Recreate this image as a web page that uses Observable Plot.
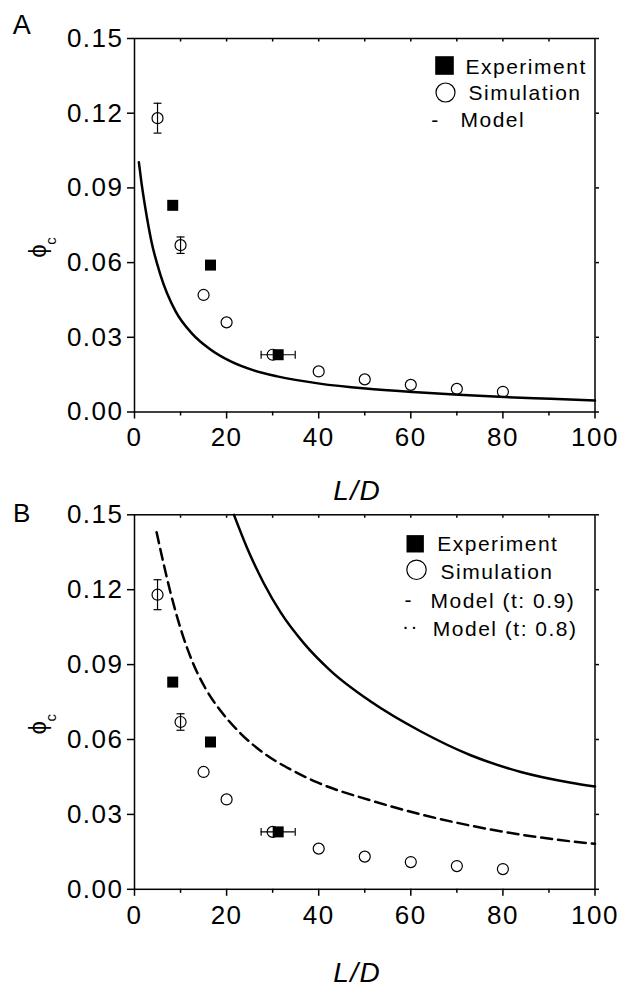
<!DOCTYPE html>
<html>
<head>
<meta charset="utf-8">
<script src="https://cdn.jsdelivr.net/npm/d3@7"></script>
<script src="https://cdn.jsdelivr.net/npm/@observablehq/plot@0.6"></script>
<style>
html, body { margin: 0; padding: 0; background: #fff; }
#wrap { position: relative; width: 624px; height: 987px; overflow: hidden; background: #fff; }
#wrap svg { position: absolute; left: 0; }
</style>
</head>
<body>
<div id="wrap"></div>
<script>
// ---------- data ----------
const simX   = [5, 10, 15, 20, 30, 40, 50, 60, 70, 80];
const simY   = [0.118, 0.067, 0.047, 0.036, 0.023, 0.0163, 0.0131, 0.0109, 0.0093, 0.0081];
const simErr = [0.006, 0.0033, 0, 0, 0, 0, 0, 0, 0, 0];

const expX    = [8.3, 16.5, 31.2];
const expY    = [0.083, 0.059, 0.023];
const expXErr = [0, 0.9, 3.7];

// Panel A model curve
const modelAX = [0.95, 1.52, 2.39, 3.62, 5.65, 8.9, 12.5, 16.2, 20.9, 25.9, 31.0, 40.2, 50.2, 60.4, 70.4, 80.3, 90.4, 100];
const modelAY = [0.1003, 0.0920, 0.0815, 0.0690, 0.0550, 0.0405, 0.0315, 0.0255, 0.0203, 0.0167, 0.0143, 0.0114, 0.0094, 0.0080, 0.0069, 0.0060, 0.0053, 0.0046];

// Panel B model curves
const modelB09X = [21.6, 24.5, 28.1, 31.7, 36.8, 42.6, 51.3, 62.2, 73.0, 83.9, 94.8, 100];
const modelB09Y = [0.150, 0.1365, 0.1225, 0.1110, 0.0985, 0.0875, 0.0752, 0.0632, 0.0537, 0.0470, 0.0427, 0.0412];
const modelB08X = [4.8, 6.0, 7.8, 10.0, 12.5, 15.4, 18.7, 23.0, 28.1, 33.9, 39.7, 51.3, 62.2, 73.0, 83.9, 94.8, 100];
const modelB08Y = [0.143, 0.133, 0.119, 0.1045, 0.0915, 0.0805, 0.0715, 0.0625, 0.0545, 0.0480, 0.0428, 0.0356, 0.0300, 0.0255, 0.0219, 0.0192, 0.0182];

// axes
const xMajor = [0, 20, 40, 60, 80, 100];
const xMinor = [10, 30, 50, 70, 90];
const xTop   = [10, 20, 30, 40, 50, 60, 70, 80, 90];
const yTicks = [0, 0.03, 0.06, 0.09, 0.12, 0.15];
const yTickLabels = ["0.00", "0.03", "0.06", "0.09", "0.12", "0.15"];

const legendA = ["Experiment", "Simulation", "Model"];
const legendB = ["Experiment", "Simulation", "Model (t: 0.9)", "Model (t: 0.8)"];

// ---------- tables ----------
const sim = simX.map((x, i) => ({x, y: simY[i], e: simErr[i]}));
const simE = sim.filter(d => d.e > 0);
const simCaps = simE.flatMap(d => [{x: d.x, y: d.y - d.e}, {x: d.x, y: d.y + d.e}]);
const exp = expX.map((x, i) => ({x, y: expY[i], e: expXErr[i]}));
const expE = exp.filter(d => d.e > 0);
const expCaps = expE.flatMap(d => [{x: d.x - d.e, y: d.y}, {x: d.x + d.e, y: d.y}]);
const toPts = (xs, ys) => xs.map((x, i) => ({x, y: ys[i]}));
const modelA = toPts(modelAX, modelAY);
const modelB09 = toPts(modelB09X, modelB09Y);
const modelB08 = toPts(modelB08X, modelB08Y);

// custom cap symbols
const hline = {draw(ctx, size) { const w = Math.sqrt(size) / 2; ctx.moveTo(-w, 0); ctx.lineTo(w, 0); }};
const vline = {draw(ctx, size) { const w = Math.sqrt(size) / 2; ctx.moveTo(0, -w); ctx.lineTo(0, w); }};

const FONT = "font-family: 'Liberation Sans', Arial, Helvetica, sans-serif; background: transparent; overflow: visible; letter-spacing: 1.5px;";
const yFmt = d => yTickLabels[yTicks.indexOf(d)] ?? d3.format(".2f")(d);

function axes() {
  return [
    Plot.axisY({ticks: yTicks, tickSize: 7, tickPadding: 4, tickFormat: yFmt, fontSize: 26, strokeWidth: 1.5, label: null}),
    Plot.axisY({anchor: "right", ticks: yTicks, tickSize: 3.5, tickFormat: () => "", strokeWidth: 1.5, label: null}),
    Plot.axisX({ticks: xMajor, tickSize: 7, tickPadding: 9, fontSize: 26, strokeWidth: 1.5, label: null}),
    Plot.axisX({ticks: xMinor, tickSize: 4, tickFormat: () => "", strokeWidth: 1.5, label: null}),
    Plot.axisX({anchor: "top", ticks: xTop, tickSize: -2.5, tickFormat: () => "", strokeWidth: 1.5, label: null}),
    Plot.frame({stroke: "black", strokeWidth: 1.5})
  ];
}

function points() {
  return [
    Plot.dot(sim, {x: "x", y: "y", r: 5.5, stroke: "black", strokeWidth: 1.2, fill: "none"}),
    Plot.ruleX(simE, {x: "x", y1: d => d.y - d.e, y2: d => d.y + d.e, stroke: "black", strokeWidth: 1.2}),
    Plot.dot(simCaps, {x: "x", y: "y", symbol: hline, r: 4.5, stroke: "black", strokeWidth: 1.2}),
    Plot.ruleY(expE, {y: "y", x1: d => d.x - d.e, x2: d => d.x + d.e, stroke: "black", strokeWidth: 1.2}),
    Plot.dot(expCaps, {x: "x", y: "y", symbol: vline, r: 4.5, stroke: "black", strokeWidth: 1.2}),
    Plot.dot(exp, {x: "x", y: "y", symbol: "square", r: 6.2, fill: "black"})
  ];
}

function yLabel() {
  return [
    Plot.text(["ϕ"], {frameAnchor: "left", dx: -96, dy: 25, rotate: -90, fontSize: 24, lineAnchor: "middle", textAnchor: "middle"}),
    Plot.text(["c"], {frameAnchor: "left", dx: -83, dy: 15, rotate: -90, fontSize: 15, lineAnchor: "middle", textAnchor: "middle"})
  ];
}

const wrap = document.getElementById("wrap");

// ---------- Panel A ----------
const plotA = Plot.plot({
  width: 624, height: 505,
  marginLeft: 134, marginRight: 29.5, marginTop: 38, marginBottom: 93.5,
  style: FONT,
  x: {domain: [0, 100], axis: null},
  y: {domain: [0, 0.15], axis: null},
  marks: [
    Plot.line(modelA, {x: "x", y: "y", stroke: "black", strokeWidth: 2.5, curve: "monotone-x"}),
    ...points(),
    ...axes(),
    ...yLabel(),
    Plot.text(["A"], {frameAnchor: "top-left", dx: -112, dy: -13, fontSize: 27, lineAnchor: "middle", textAnchor: "middle"}),
    Plot.text(["L/D"], {frameAnchor: "bottom", dx: -7.5, dy: 79, fontSize: 28, fontStyle: "italic", lineAnchor: "middle", textAnchor: "middle"}),
    // legend
    Plot.dot([legendA[0]], {frameAnchor: "top-left", dx: 310, dy: 27, symbol: "square", r: 10.5, fill: "black"}),
    Plot.dot([legendA[1]], {frameAnchor: "top-left", dx: 311, dy: 54, r: 9.5, stroke: "black", strokeWidth: 1.2, fill: "none"}),
    Plot.text(["-"], {frameAnchor: "top-left", dx: 301, dy: 82, fontSize: 21, lineAnchor: "middle", textAnchor: "middle"}),
    Plot.text([legendA[0]], {frameAnchor: "top-left", dx: 331, dy: 28.6, fontSize: 21, lineAnchor: "middle", textAnchor: "start"}),
    Plot.text([legendA[1]], {frameAnchor: "top-left", dx: 334, dy: 54.3, fontSize: 21, lineAnchor: "middle", textAnchor: "start"}),
    Plot.text([legendA[2]], {frameAnchor: "top-left", dx: 326, dy: 82, fontSize: 21, lineAnchor: "middle", textAnchor: "start"})
  ]
});
plotA.style.top = "0px";
wrap.appendChild(plotA);

// ---------- Panel B ----------
const plotB = Plot.plot({
  width: 624, height: 497,
  marginLeft: 134, marginRight: 29.5, marginTop: 24.3, marginBottom: 98.2,
  style: FONT,
  x: {domain: [0, 100], axis: null},
  y: {domain: [0, 0.15], axis: null},
  marks: [
    Plot.line(modelB09, {x: "x", y: "y", stroke: "black", strokeWidth: 2.5, curve: "monotone-x"}),
    Plot.line(modelB08, {x: "x", y: "y", stroke: "black", strokeWidth: 2.5, strokeDasharray: "11,6", curve: "monotone-x"}),
    ...points(),
    ...axes(),
    ...yLabel(),
    Plot.text(["B"], {frameAnchor: "top-left", dx: -112, dy: -1.5, fontSize: 26, lineAnchor: "middle", textAnchor: "middle"}),
    Plot.text(["L/D"], {frameAnchor: "bottom", dx: -7.5, dy: 84, fontSize: 28, fontStyle: "italic", lineAnchor: "middle", textAnchor: "middle"}),
    // legend
    Plot.dot([legendB[0]], {frameAnchor: "top-left", dx: 280.7, dy: 29, symbol: "square", r: 9.8, fill: "black"}),
    Plot.dot([legendB[1]], {frameAnchor: "top-left", dx: 282, dy: 55, r: 9.7, stroke: "black", strokeWidth: 1.2, fill: "none"}),
    Plot.text(["-"], {frameAnchor: "top-left", dx: 274.3, dy: 85.7, fontSize: 21, lineAnchor: "middle", textAnchor: "middle"}),
    Plot.text(["··"], {frameAnchor: "top-left", dx: 276, dy: 111.5, fontSize: 21, lineAnchor: "middle", textAnchor: "middle"}),
    Plot.text([legendB[0]], {frameAnchor: "top-left", dx: 302.7, dy: 29, fontSize: 21, lineAnchor: "middle", textAnchor: "start"}),
    Plot.text([legendB[1]], {frameAnchor: "top-left", dx: 306, dy: 57.3, fontSize: 21, lineAnchor: "middle", textAnchor: "start"}),
    Plot.text([legendB[2]], {frameAnchor: "top-left", dx: 296, dy: 86.3, fontSize: 21, lineAnchor: "middle", textAnchor: "start"}),
    Plot.text([legendB[3]], {frameAnchor: "top-left", dx: 298.3, dy: 114, fontSize: 21, lineAnchor: "middle", textAnchor: "start"})
  ]
});
plotB.style.top = "490px";
wrap.appendChild(plotB);
</script>
</body>
</html>
